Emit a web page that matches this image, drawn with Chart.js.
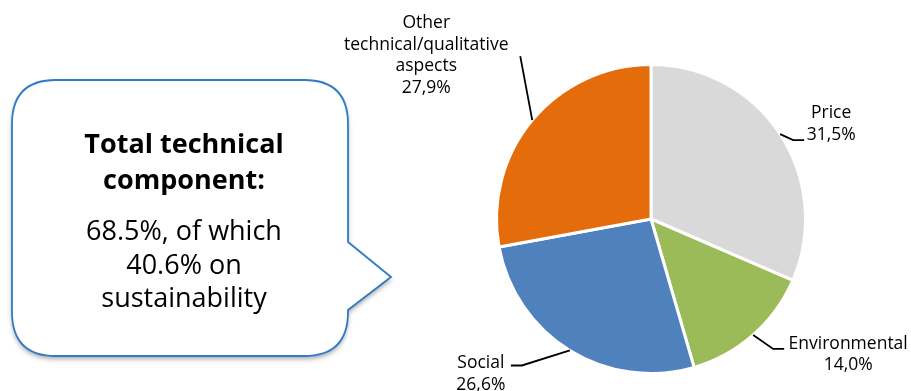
<!DOCTYPE html>
<html>
<head>
<meta charset="utf-8">
<script src="https://cdn.jsdelivr.net/npm/chart.js@4.4.1/dist/chart.umd.min.js"></script>
<style>
  html, body { margin: 0; padding: 0; background: #fff; }
  #wrap { width: 911px; height: 391px; position: relative; }
</style>
</head>
<body>
<div id="wrap"><canvas id="pieChart"></canvas></div>
<script>
// data
const categories = ['Price', 'Environmental', 'Social', 'Other technical/qualitative aspects'];
const shares = [31.5, 14.0, 26.6, 27.9];
const labelLines = [['Price', '31,5%'], ['Environmental', '14,0%'], ['Social', '26,6%'], ['Other', 'technical/qualitative', 'aspects', '27,9%']];
const sliceColors = ['#D9D9D9', '#9BBB59', '#4F81BD', '#E46C0A'];
const calloutTitle = ['Total technical', 'component:'];
const calloutBody = ['68.5%, of which', '40.6% on', 'sustainability'];

// leader line shape per slice: elbow offset, short tail, label centre x / first baseline offset
const leaders = [
  { elbow: [13, 6], tail: 11, text: [51, -16] },
  { elbow: [20, 14], tail: 11, text: [95, 14] },
  { elbow: [-48, 15], tail: -11, text: [-89, 18] },
  { elbow: [-12, -64], tail: 0, text: [-106, -92] }
];

const FONT = '"Open Sans", "Noto Sans", sans-serif';

const calloutPlugin = {
  id: 'callout',
  beforeDraw(chart) {
    const ctx = chart.ctx;
    const x0 = 12, y0 = 80, x1 = 348, y1 = 356, r = 44;
    const pTop = 242, pBot = 310, tipX = 391, tipY = 277;
    ctx.save();
    ctx.beginPath();
    ctx.moveTo(x0 + r, y0);
    ctx.lineTo(x1 - r, y0);
    ctx.quadraticCurveTo(x1, y0, x1, y0 + r);
    ctx.lineTo(x1, pTop);
    ctx.lineTo(tipX, tipY);
    ctx.lineTo(x1, pBot);
    ctx.lineTo(x1, y1 - r);
    ctx.quadraticCurveTo(x1, y1, x1 - r, y1);
    ctx.lineTo(x0 + r, y1);
    ctx.quadraticCurveTo(x0, y1, x0, y1 - r);
    ctx.lineTo(x0, y0 + r);
    ctx.quadraticCurveTo(x0, y0, x0 + r, y0);
    ctx.closePath();
    ctx.shadowColor = 'rgba(0,0,0,0.35)';
    ctx.shadowBlur = 5;
    ctx.shadowOffsetY = 3;
    ctx.fillStyle = '#fff';
    ctx.fill();
    ctx.shadowColor = 'transparent';
    ctx.lineWidth = 1.8;
    ctx.strokeStyle = '#2F7BC4';
    ctx.stroke();

    ctx.fillStyle = '#000';
    ctx.textAlign = 'center';
    ctx.textBaseline = 'alphabetic';
    const cx = 184;
    ctx.font = 'bold 27px ' + FONT;
    calloutTitle.forEach((t, i) => ctx.fillText(t, cx, 153 + i * 36));
    ctx.font = '27px ' + FONT;
    calloutBody.forEach((t, i) => ctx.fillText(t, cx, 240 + i * 33.5));
    ctx.restore();
  }
};

const labelPlugin = {
  id: 'sliceLabels',
  afterDraw(chart) {
    const ctx = chart.ctx;
    const arcs = chart.getDatasetMeta(0).data;
    ctx.save();
    arcs.forEach((arc, i) => {
      const p = arc.getProps(['x', 'y', 'startAngle', 'endAngle', 'outerRadius'], true);
      const mid = (p.startAngle + p.endAngle) / 2;
      const ex = p.x + Math.cos(mid) * p.outerRadius;
      const ey = p.y + Math.sin(mid) * p.outerRadius;
      const L = leaders[i];
      const bx = ex + L.elbow[0], by = ey + L.elbow[1];
      ctx.beginPath();
      ctx.moveTo(ex, ey);
      ctx.lineTo(bx, by);
      if (L.tail) ctx.lineTo(bx + L.tail, by);
      ctx.strokeStyle = '#000';
      ctx.lineWidth = 1.8;
      ctx.stroke();

      ctx.fillStyle = '#000';
      ctx.font = '17.5px ' + FONT;
      ctx.textAlign = 'center';
      ctx.textBaseline = 'alphabetic';
      const tx = ex + L.text[0], ty = ey + L.text[1];
      labelLines[i].forEach((t, k) => ctx.fillText(t, tx, ty + k * 21.5));
    });
    ctx.restore();
  }
};

new Chart(document.getElementById('pieChart'), {
  type: 'pie',
  data: {
    labels: categories,
    datasets: [{
      data: shares,
      backgroundColor: sliceColors,
      borderColor: '#fff',
      borderWidth: 3
    }]
  },
  options: {
    responsive: true,
    maintainAspectRatio: false,
    animation: false,
    layout: { padding: { left: 495, right: 104, top: 63, bottom: 16 } },
    plugins: {
      legend: { display: false },
      tooltip: { enabled: false }
    }
  },
  plugins: [calloutPlugin, labelPlugin]
});
</script>
</body>
</html>
